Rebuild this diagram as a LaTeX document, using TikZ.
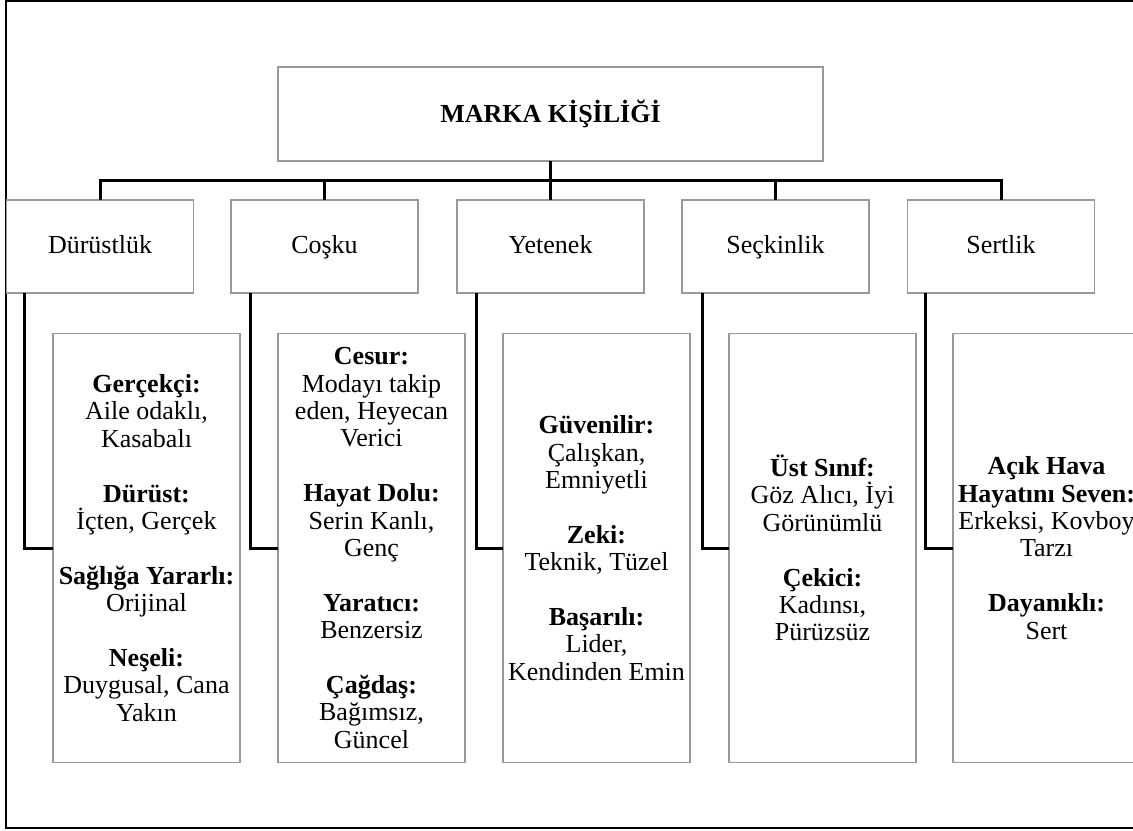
\documentclass[tikz,border=0pt]{standalone}
\usepackage{fontspec}
\setmainfont{Liberation Serif}
\usepackage{tikz}

\tikzset{
  boxline/.style={draw=black!40,line width=0.6pt,inner sep=0pt,outer sep=0pt,
    align=center,font=\fontsize{13}{13.7}\selectfont},
  topbox/.style={boxline,minimum width=272.5pt,minimum height=47pt,
    font=\fontsize{13}{13.7}\selectfont\bfseries},
  catbox/.style={boxline,minimum width=93.5pt,minimum height=46.5pt,
    text height=9pt,text depth=2.5pt},
  traitbox/.style={boxline,minimum width=93.5pt,minimum height=214.5pt},
  link/.style={line width=1.5pt}
}
\newcommand{\gap}{\\[13.7pt]}

\begin{document}
\begin{tikzpicture}[x=0.5pt,y=-0.5pt]
  \useasboundingbox (0,0) rectangle (1133,830);
  \clip (0,0) rectangle (1133,830);
  % frame
  \draw[line width=1.1pt] (1140,1) -- (6,1) -- (6,828) -- (1140,828);
  % root
  \node[topbox] (marka) at (550.5,114) {MARKA KİŞİLİĞİ};
  % categories
  \node[catbox] (durust) at (100,246.5) {Dürüstlük};
  \node[catbox] (coskuB) at (324.5,246.5) {Coşku};
  \node[catbox] (yetenek) at (550.5,246.5) {Yetenek};
  \node[catbox] (seckin) at (775.5,246.5) {Seçkinlik};
  \node[catbox] (sert) at (1001,246.5) {Sertlik};
  \coordinate (bus) at (550.5,180);
  \draw[link] (marka.south) -- (bus);
  \draw[link] (bus) -| (durust.north);
  \draw[link] (bus) -| (coskuB.north);
  \draw[link] (bus) -- (yetenek.north);
  \draw[link] (bus) -| (seckin.north);
  \draw[link] (bus) -| (sert.north);
  % traits
  \node[traitbox] (durustT) at (146.5,548)
    {\textbf{Gerçekçi:}\\ Aile odaklı,\\ Kasabalı\gap
     \textbf{Dürüst:}\\ İçten, Gerçek\gap
     \textbf{Sağlığa Yararlı:}\\ Orijinal\gap
     \textbf{Neşeli:}\\ Duygusal, Cana\\ Yakın};
  \node[traitbox] (coskuT) at (371.5,548)
    {\textbf{Cesur:}\\ Modayı takip\\ eden, Heyecan\\ Verici\gap
     \textbf{Hayat Dolu:}\\ Serin Kanlı,\\ Genç\gap
     \textbf{Yaratıcı:}\\ Benzersiz\gap
     \textbf{Çağdaş:}\\ Bağımsız,\\ Güncel};
  \node[traitbox] (yetenekT) at (596.5,548)
    {\textbf{Güvenilir:}\\ Çalışkan,\\ Emniyetli\gap
     \textbf{Zeki:}\\ Teknik, Tüzel\gap
     \textbf{Başarılı:}\\ Lider,\\ Kendinden Emin};
  \node[traitbox] (seckinT) at (822.5,548)
    {\textbf{Üst Sınıf:}\\ Göz Alıcı, İyi\\ Görünümlü\gap
     \textbf{Çekici:}\\ Kadınsı,\\ Pürüzsüz};
  \node[traitbox] (sertT) at (1046.5,548)
    {\textbf{Açık Hava}\\ \textbf{Hayatını Seven:}\\ Erkeksi, Kovboy\\ Tarzı\gap
     \textbf{Dayanıklı:}\\ Sert};
  \draw[link] ([xshift=9pt]durust.south west) |- (durustT.west);
  \draw[link] ([xshift=9.5pt]coskuB.south west) |- (coskuT.west);
  \draw[link] ([xshift=9.5pt]yetenek.south west) |- (yetenekT.west);
  \draw[link] ([xshift=10pt]seckin.south west) |- (seckinT.west);
  \draw[link] ([xshift=9pt]sert.south west) |- (sertT.west);
\end{tikzpicture}
\end{document}
